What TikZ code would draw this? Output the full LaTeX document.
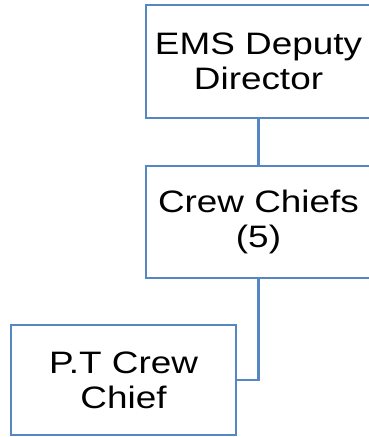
\documentclass[tikz,border=0pt]{standalone}
\usepackage{fontspec}
\newfontfamily\boxfont[FakeStretch=1.19]{Liberation Sans}
\definecolor{orgblue}{RGB}{84,135,195}
\begin{document}
\begin{tikzpicture}[
  x=1pt, y=1pt,
  unit/.style={draw=orgblue, line width=2.4pt, fill=white, align=center,
    minimum width=225pt, inner sep=0pt, outer sep=0pt,
    font=\boxfont\fontsize{31}{35}\selectfont},
  link/.style={draw=orgblue, line width=2.4pt}
]
\useasboundingbox (0,0) rectangle (368,-437);
\node[unit, minimum height=113pt] (deputy) at (258.5,-61.5) {EMS Deputy\\Director};
\node[unit, minimum height=112pt] (chiefs) at (258.5,-222) {Crew Chiefs\\(5)};
\node[unit, minimum height=110pt] (ptchief) at (123.5,-380) {P.T Crew\\Chief};
\draw[link] (deputy) -- (chiefs);
\draw[link] (chiefs.south) |- (ptchief.east);
\end{tikzpicture}
\end{document}
